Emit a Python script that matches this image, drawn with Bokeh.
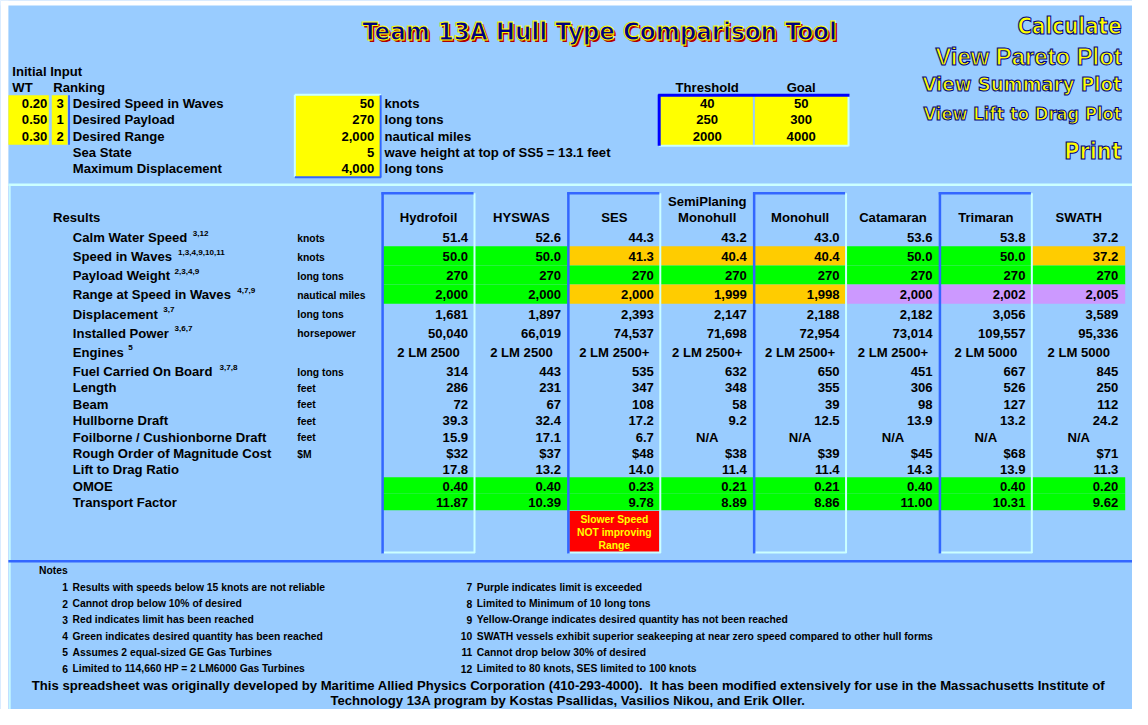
from bokeh.plotting import figure
from bokeh.models import ColumnDataSource, Range1d
from bokeh.embed import file_html
from bokeh.resources import INLINE
from bokeh.core.properties import value

# ---------------- data ----------------
title = "Team 13A Hull Type Comparison Tool"
buttons = ["Calculate", "View Pareto Plot", "View Summary Plot", "View Lift to Drag Plot", "Print"]

input_weights = [0.20, 0.50, 0.30]
input_ranking = [3, 1, 2]
input_labels = ["Desired Speed in Waves", "Desired Payload", "Desired Range", "Sea State", "Maximum Displacement"]
input_values = [50, 270, 2000, 5, 4000]
input_units = ["knots", "long tons", "nautical miles", "wave height at top of SS5 = 13.1 feet", "long tons"]
thresholds = [40, 250, 2000]
goals = [50, 300, 4000]

hulls = ["Hydrofoil", "HYSWAS", "SES", "SemiPlaning\nMonohull", "Monohull", "Catamaran", "Trimaran", "SWATH"]
boxed = [True, False, True, False, True, False, True, False]

calm_water_speed = [51.4, 52.6, 44.3, 43.2, 43.0, 53.6, 53.8, 37.2]
speed_in_waves = [50.0, 50.0, 41.3, 40.4, 40.4, 50.0, 50.0, 37.2]
payload_weight = [270, 270, 270, 270, 270, 270, 270, 270]
range_in_waves = [2000, 2000, 2000, 1999, 1998, 2000, 2002, 2005]
displacement = [1681, 1897, 2393, 2147, 2188, 2182, 3056, 3589]
installed_power = [50040, 66019, 74537, 71698, 72954, 73014, 109557, 95336]
engines = ["2 LM 2500", "2 LM 2500", "2 LM 2500+", "2 LM 2500+", "2 LM 2500+", "2 LM 2500+", "2 LM 5000", "2 LM 5000"]
fuel_on_board = [314, 443, 535, 632, 650, 451, 667, 845]
length_ft = [286, 231, 347, 348, 355, 306, 526, 250]
beam_ft = [72, 67, 108, 58, 39, 98, 127, 112]
hullborne_draft = [39.3, 32.4, 17.2, 9.2, 12.5, 13.9, 13.2, 24.2]
foilborne_draft = [15.9, 17.1, 6.7, None, None, None, None, None]
rom_cost = [32, 37, 48, 38, 39, 45, 68, 71]
lift_to_drag = [17.8, 13.2, 14.0, 11.4, 11.4, 14.3, 13.9, 11.3]
omoe = [0.40, 0.40, 0.23, 0.21, 0.21, 0.40, 0.40, 0.20]
transport_factor = [11.87, 10.39, 9.78, 8.89, 8.86, 11.00, 10.31, 9.62]

speed_status = ["green", "green", "orange", "orange", "orange", "green", "green", "orange"]
payload_status = ["green", "green", "green", "green", "green", "green", "green", "green"]
range_status = ["green", "green", "orange", "orange", "orange", "purple", "purple", "purple"]
omoe_status = ["green", "green", "green", "green", "green", "green", "green", "green"]
tf_status = ["green", "green", "green", "green", "green", "green", "green", "green"]

ses_flag = ["Slower Speed", "NOT improving", "Range"]

row_labels = ["Calm Water Speed", "Speed in Waves", "Payload Weight", "Range at Speed in Waves",
              "Displacement", "Installed Power", "Engines", "Fuel Carried On Board", "Length", "Beam",
              "Hullborne Draft", "Foilborne / Cushionborne Draft", "Rough Order of Magnitude Cost",
              "Lift to Drag Ratio", "OMOE", "Transport Factor"]
row_refs = ["3,12", "1,3,4,9,10,11", "2,3,4,9", "4,7,9", "3,7", "3,6,7", "5", "3,7,8",
            "", "", "", "", "", "", "", ""]
row_units = ["knots", "knots", "long tons", "nautical miles", "long tons", "horsepower", "", "long tons",
             "feet", "feet", "feet", "feet", "$M", "", "", ""]

notes_left = ["Results with speeds below 15 knots are not reliable",
              "Cannot drop below 10% of desired",
              "Red indicates limit has been reached",
              "Green indicates desired quantity has been reached",
              "Assumes 2 equal-sized GE Gas Turbines",
              "Limited to 114,660 HP = 2 LM6000 Gas Turbines"]
notes_right = ["Purple indicates limit is exceeded",
               "Limited to Minimum of 10 long tons",
               "Yellow-Orange indicates desired quantity has not been reached",
               "SWATH vessels exhibit superior seakeeping at near zero speed compared to other hull forms",
               "Cannot drop below 30% of desired",
               "Limited to 80 knots, SES limited to 100 knots"]
footer = ["This spreadsheet was originally developed by Maritime Allied Physics Corporation (410-293-4000).\u00a0 It has been modified extensively for use in the Massachusetts Institute of",
          "Technology 13A program by Kostas Psallidas, Vasilios Nikou, and Erik Oller."]

# ---------------- formatting ----------------
def f1(v): return "N/A" if v is None else f"{v:.1f}"
def f2(v): return f"{v:.2f}"
def fc(v): return f"{v:,}"
def fd(v): return f"${v}"

row_values = [
    [f1(v) for v in calm_water_speed],
    [f1(v) for v in speed_in_waves],
    [fc(v) for v in payload_weight],
    [fc(v) for v in range_in_waves],
    [fc(v) for v in displacement],
    [fc(v) for v in installed_power],
    list(engines),
    [fc(v) for v in fuel_on_board],
    [fc(v) for v in length_ft],
    [fc(v) for v in beam_ft],
    [f1(v) for v in hullborne_draft],
    [f1(v) for v in foilborne_draft],
    [fd(v) for v in rom_cost],
    [f1(v) for v in lift_to_drag],
    [f2(v) for v in omoe],
    [f2(v) for v in transport_factor],
]
row_status = {1: speed_status, 2: payload_status, 3: range_status, 14: omoe_status, 15: tf_status}
status_color = {"green": "#00FF00", "orange": "#FFCC00", "purple": "#CC99FF"}

# ---------------- layout / style ----------------
FONT = "Liberation Sans"
COND = "DejaVu Sans Condensed"
BG = "#99CCFF"
YELLOW = "#FFFF00"
BLUE = "#3366FF"
LIGHT = "#CCFFFF"
NAVY = "#000080"
FS = 0.985  # font scale (figure is slightly smaller than the reference canvas)

p = figure(width=1132, height=709, x_range=Range1d(0, 1148), y_range=Range1d(725, 0),
           output_backend="svg", toolbar_location=None, min_border=0,
           x_axis_location=None, y_axis_location=None)
p.grid.visible = False
p.outline_line_color = None
p.background_fill_color = BG
p.border_fill_color = BG


def draw_text(xs, ys, texts, size, align="left", color="#000000", font=FONT, outline=None, style="bold"):
    src = ColumnDataSource(dict(x=list(xs), y=list(ys), t=list(texts)))
    kw = {}
    if outline:
        kw["text_outline_color"] = outline
    p.text(x="x", y="y", text="t", source=src, text_font=value(font),
           text_font_size=value(f"{size * FS:.2f}px"), text_font_style=value(style),
           text_align=align, text_baseline="middle", text_color=color, **kw)


def hline(y, x0, x1, color, w):
    p.segment(x0=[x0], y0=[y], x1=[x1], y1=[y], line_color=color, line_width=w)


def vline(x, y0, y1, color, w):
    p.segment(x0=[x], y0=[y0], x1=[x], y1=[y1], line_color=color, line_width=w)


# white page strips seen at the reference's left/top edges
p.quad(left=[0], right=[8], top=[0], bottom=[725], fill_color="white", line_color=None)
p.quad(left=[0], right=[1148], top=[0], bottom=[5], fill_color="white", line_color=None)
vline(9.5, 189, 725, LIGHT, 1.5)

# section separators
hline(188.5, 8, 1148, LIGHT, 2.5)
hline(573.5, 8, 1148, BLUE, 2.5)

# ---- title & buttons ----
draw_text([609.5], [33], [title], 26, "center", color="#B00000", font=COND)
draw_text([607.5], [31], [title], 26, "center", color=NAVY, font=COND, outline=YELLOW)
btn_y = [26, 57, 85, 116, 154]
btn_size = [22.5, 24.2, 20.5, 18.5, 23.5]
btn_font = [COND, FONT, COND, COND, COND]
for b, yy, s, f in zip(buttons, btn_y, btn_size, btn_font):
    draw_text([1137], [yy], [b], s, "right", color=YELLOW, font=f, outline=NAVY)

# ---- initial input ----
in_y = [105.3 + 16.75 * i for i in range(5)]
cell_top, cell_bot = 97, 147.5
p.quad(left=[8], right=[49], top=[cell_top], bottom=[cell_bot], fill_color=YELLOW, line_color=None)
p.quad(left=[52], right=[68], top=[cell_top], bottom=[cell_bot], fill_color=YELLOW, line_color=None)
vline(69.5, cell_top, cell_bot, BLUE, 2)
p.quad(left=[299], right=[385], top=[97], bottom=[180.5], fill_color=YELLOW, line_color=None)
vline(298.5, 96.5, 180.5, LIGHT, 2)
hline(96.5, 298.5, 386, LIGHT, 2)
vline(385.5, 97, 181, BLUE, 2)
hline(180.8, 298.5, 386, BLUE, 2)

draw_text([12], [72.7], ["Initial Input"], 13.3)
draw_text([12, 53.5], [89.3, 89.3], ["WT", "Ranking"], 13.3)
draw_text([47.5] * 3, in_y[:3], [f"{w:.2f}" for w in input_weights], 13.3, "right")
draw_text([60.5] * 3, in_y[:3], [str(r) for r in input_ranking], 13.3, "center")
draw_text([73.3] * 5, in_y, input_labels, 13.3)
draw_text([379] * 5, in_y, [fc(v) for v in input_values], 13.3, "right")
draw_text([389.5] * 5, in_y, input_units, 13.3)

# threshold / goal
p.quad(left=[668, 765], right=[763, 859.5], top=[97, 97], bottom=[148, 148], fill_color=YELLOW, line_color=None)
hline(148.5, 668, 860, LIGHT, 2)
vline(860, 97, 149, LIGHT, 2)
hline(97, 667, 861, "#0000FF", 3)
vline(668, 96, 148.5, "#0000FF", 3)
draw_text([716.7, 812], [89.3, 89.3], ["Threshold", "Goal"], 13.3, "center")
draw_text([716.7] * 3, in_y[:3], [str(v) for v in thresholds], 13.3, "center")
draw_text([812] * 3, in_y[:3], [str(v) for v in goals], 13.3, "center")

# ---- results table ----
COL0, COLW = 387.0, 94.2
col_left = [COL0 + COLW * i for i in range(len(hulls))]
col_right = [l + COLW for l in col_left]
col_mid = [l + COLW / 2 for l in col_left]
row_y = [242.3 + 19.57 * i for i in range(8)] + [396.0 + 16.8 * i for i in range(8)]
row_h = [19.57] * 8 + [16.8] * 8

# status fills
fl, fr, ft, fb, fcol = [], [], [], [], []
for r, st in row_status.items():
    for c, s in enumerate(st):
        fl.append(col_left[c]); fr.append(col_right[c])
        ft.append(row_y[r] - row_h[r] / 2 - 0.8); fb.append(row_y[r] + row_h[r] / 2 - 0.8)
        fcol.append(status_color[s])
p.quad(left=fl, right=fr, top=ft, bottom=fb, fill_color=fcol, line_color=None)

# SES note box
p.quad(left=[col_left[2] + 1.5], right=[col_right[2] - 1.5], top=[522], bottom=[564],
       fill_color="#FF0000", line_color=None)
draw_text([col_mid[2]] * 3, [530.7 + 13.2 * i for i in range(3)], ses_flag, 10.5, "center", color=YELLOW)

# column boxes
for c, bx in enumerate(boxed):
    if bx:
        vline(col_right[c] - 0.5, 197, 565, LIGHT, 2)
        hline(564.5, col_left[c], col_right[c], LIGHT, 2)
        vline(col_left[c] + 0.5, 196, 565.5, BLUE, 2.5)
        hline(197, col_left[c] - 0.7, col_right[c] - 1.5, BLUE, 2.5)

# headers
hx, hy, ht = [], [], []
for c, name in enumerate(hulls):
    lines = name.split("\n")
    for k, ln in enumerate(reversed(lines)):
        hx.append(col_mid[c]); hy.append(222.3 - 17 * k); ht.append(ln)
draw_text(hx, hy, ht, 13.3, "center")

# values
rx, ry, rt, cx, cy, ct = [], [], [], [], [], []
for r, vals in enumerate(row_values):
    for c, t in enumerate(vals):
        if t == "N/A" or r == 6:
            cx.append(col_mid[c]); cy.append(row_y[r]); ct.append(t)
        else:
            rx.append(col_right[c] - 7); ry.append(row_y[r]); rt.append(t)
draw_text(rx, ry, rt, 13.3, "right")
draw_text(cx, cy, ct, 13.3, "center")

# labels
draw_text([53.3], [222.3], ["Results"], 13.3)
draw_text([73.3] * len(row_labels), row_y, row_labels, 13.3)
sup_x = [195, 180, 176.5, 240, 165, 176.5, 129.5, 222]
sx, sy, st_ = [], [], []
for r, ref in enumerate(row_refs):
    if ref:
        sx.append(sup_x[r]); sy.append(row_y[r] - 4.5); st_.append(ref)
draw_text(sx, sy, st_, 8.2)
ux, uy, ut = [], [], []
for r, u in enumerate(row_units):
    if u:
        ux.append(301); uy.append(row_y[r] + 0.8); ut.append(u)
draw_text(ux, uy, ut, 10.5)

# ---- notes ----
note_y = [600 + 16.67 * i for i in range(6)]
draw_text([39], [583], ["Notes"], 10.5)
draw_text([68.5] * 6, note_y, [str(i + 1) for i in range(6)], 10.5, "right")
draw_text([73] * 6, note_y, notes_left, 10.5)
draw_text([478.5] * 6, note_y, [str(i + 7) for i in range(6)], 10.5, "right")
draw_text([483] * 6, note_y, notes_right, 10.5)
draw_text([576, 575.5], [700, 716], footer, 13.3, "center")

open("out.html", "w").write(file_html(p, INLINE))
